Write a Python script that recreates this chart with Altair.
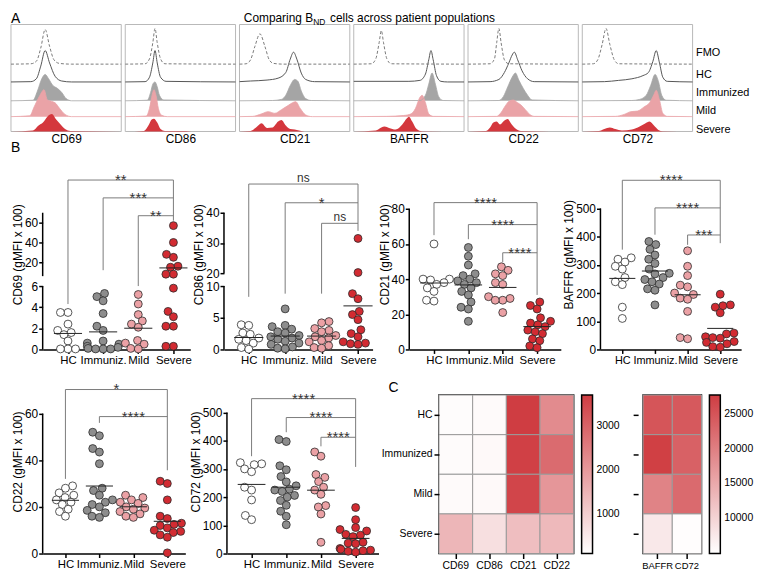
import altair as alt
import numpy as np
import pandas as pd

FONT = "Liberation Sans"
GROUPS = ["HC", "Immuniz.", "Mild", "Severe"]
GROUP_FILL = ["#ffffff", "#8d8d8d", "#eba1a5", "#d22b32"]

# ---------------- Panel B values (gMFI x 100) ----------------
cd69_hc = [3.5, 3.5, 2.4, 1.8, 1.6, 1.4, 0.8, 0.05, 0.05, 0.05]
cd69_imm = [5.3, 5.0, 4.6, 3.4, 2.2, 1.8, 0.8, 0.6, 0.5, 0.3, 0.2, 0.1, 0.05, 0.05, 0.05]
cd69_mild = [5.2, 4.3, 3.3, 2.7, 2.4, 2.1, 0.85, 0.6, 0.5, 0.1, 0.05]
cd69_sev = [57, 40, 28, 25, 16, 15, 8, 8, 5.8, 3.6, 3.1, 2.2, 2.2, 0.3, 0.3]

cd86_hc = [3.9, 3.8, 2.6, 2.4, 1.8, 1.6, 1.4, 1.0, 0.3, 0.05]
cd86_imm = [6.4, 3.8, 3.6, 3.2, 2.8, 2.6, 2.2, 2.0, 1.8, 1.6, 1.3, 1.0, 0.8, 0.4, 0.2, 0.1]
cd86_mild = [4.4, 4.2, 3.3, 3.0, 2.8, 2.2, 2.0, 1.8, 1.4, 1.2, 0.6, 0.3, 0.2]
cd86_sev = [31.5, 20.2, 8.8, 8.0, 6.0, 5.5, 4.7, 3.1, 2.5, 2.0, 1.2, 1.0, 0.9, 0.8]

cd21_hc = [60, 40, 40, 39.5, 38, 37, 35, 33, 28, 27.5]
cd21_imm = [58, 53, 48, 43, 42, 40, 39, 38, 37, 35, 33, 31, 27, 24, 23, 16]
cd21_mild = [47, 45, 43, 42, 38, 37, 30, 29, 28, 28, 21]
cd21_sev = [27, 25, 23, 18, 16, 15, 14, 13, 11, 10, 9, 6, 5, 2, 1]

baffr_hc = [325, 320, 310, 295, 285, 255, 240, 230, 150, 110]
baffr_imm = [383, 372, 355, 335, 320, 305, 285, 270, 268, 255, 248, 240, 232, 215, 210, 158]
baffr_mild = [350, 295, 262, 228, 222, 200, 195, 182, 178, 135, 42, 38]
baffr_sev = [196, 158, 155, 150, 130, 58, 55, 45, 42, 40, 28, 25, 20, 10, 8]

cd22_hc = [29, 28, 26, 25, 24, 23, 22, 21, 19, 18, 16]
cd22_imm = [52, 50.5, 45, 43.5, 38.5, 28, 27, 25, 23, 22, 21, 20, 18.5, 17.5, 16, 15.5]
cd22_mild = [25, 24, 23, 22, 21.5, 20, 19.5, 19, 18, 17, 16, 15.5]
cd22_sev = [31, 30, 23, 16, 15, 13, 12.5, 12, 11, 10, 9.5, 9, 8, 7, 0.3]

cd72_hc = [322, 318, 315, 300, 290, 235, 225, 190, 135, 120]
cd72_imm = [404, 397, 311, 297, 273, 254, 240, 228, 225, 220, 206, 200, 188, 171, 150, 132, 102]
cd72_mild = [360, 345, 280, 270, 255, 235, 225, 210, 170, 165, 140, 40]
cd72_sev = [163, 120, 92, 85, 80, 68, 65, 60, 40, 37, 35, 18, 15, 12, 10, 8, 5]

# ---------------- Panel C heatmap values ----------------
HM_GROUPS = ["HC", "Immunized", "Mild", "Severe"]
hm_cd69 = [150, 170, 200, 1450]
hm_cd86 = [190, 210, 210, 700]
hm_cd21 = [3700, 3650, 3550, 1300]
hm_cd22 = [2250, 2850, 2050, 1400]
hm_baffr = [25000, 27500, 19500, 7500]
hm_cd72 = [24500, 23500, 22500, 5000]

# ---------------- Panel A histogram knots (fraction, relative height) ----------------
A_MARKERS = ["CD69", "CD86", "CD21", "BAFFR", "CD22", "CD72"]
A_ROWS = ["FMO", "HC", "Immunized", "Mild", "Severe"]

h_cd69_fmo = [(0, 0), (0.18, 0.01), (0.23, 0.08), (0.27, 0.45), (0.31, 0.97), (0.35, 0.5), (0.39, 0.12), (0.44, 0.02), (0.55, 0), (1, 0)]
h_cd69_hc = [(0, 0), (0.18, 0.01), (0.23, 0.1), (0.27, 0.5), (0.31, 0.99), (0.35, 0.6), (0.40, 0.18), (0.46, 0.03), (0.55, 0), (1, 0)]
h_cd69_imm = [(0, 0), (0.2, 0.02), (0.24, 0.35), (0.28, 0.8), (0.31, 0.95), (0.34, 0.8), (0.38, 0.55), (0.42, 0.45), (0.46, 0.3), (0.50, 0.08), (0.55, 0), (1, 0)]
h_cd69_mild = [(0, 0), (0.17, 0.03), (0.21, 0.35), (0.26, 0.75), (0.30, 0.97), (0.33, 0.6), (0.37, 0.55), (0.40, 0.5), (0.44, 0.3), (0.49, 0.08), (0.55, 0), (1, 0)]
h_cd69_sev = [(0, 0), (0.2, 0.05), (0.25, 0.3), (0.29, 0.45), (0.33, 0.75), (0.37, 0.88), (0.41, 0.6), (0.45, 0.35), (0.49, 0.12), (0.54, 0.02), (1, 0)]

h_cd86_fmo = [(0, 0), (0.18, 0.01), (0.22, 0.15), (0.25, 0.6), (0.27, 1.0), (0.29, 0.6), (0.32, 0.15), (0.36, 0.01), (1, 0)]
h_cd86_hc = [(0, 0), (0.18, 0.01), (0.22, 0.15), (0.25, 0.6), (0.27, 0.99), (0.29, 0.6), (0.32, 0.15), (0.37, 0.02), (1, 0)]
h_cd86_imm = [(0, 0), (0.2, 0.02), (0.23, 0.3), (0.25, 0.6), (0.27, 0.68), (0.29, 0.5), (0.31, 0.2), (0.35, 0.03), (1, 0)]
h_cd86_mild = [(0, 0), (0.19, 0.02), (0.22, 0.3), (0.245, 0.8), (0.26, 0.97), (0.28, 0.75), (0.30, 0.3), (0.33, 0.05), (0.38, 0), (1, 0)]
h_cd86_sev = [(0, 0), (0.17, 0.03), (0.21, 0.3), (0.24, 0.6), (0.26, 0.64), (0.29, 0.45), (0.32, 0.12), (0.36, 0.02), (0.55, 0.02), (0.6, 0), (1, 0)]

h_cd21_fmo = [(0, 0), (0.06, 0.01), (0.10, 0.12), (0.14, 0.5), (0.185, 0.85), (0.23, 0.5), (0.27, 0.12), (0.31, 0.02), (0.4, 0), (1, 0)]
h_cd21_hc = [(0, 0.01), (0.1, 0.03), (0.25, 0.06), (0.35, 0.12), (0.42, 0.3), (0.46, 0.72), (0.49, 0.94), (0.52, 0.72), (0.56, 0.28), (0.6, 0.08), (0.68, 0.01), (1, 0)]
h_cd21_imm = [(0, 0), (0.3, 0.01), (0.38, 0.05), (0.42, 0.2), (0.46, 0.55), (0.5, 0.77), (0.53, 0.7), (0.56, 0.35), (0.6, 0.08), (0.65, 0.01), (1, 0)]
h_cd21_mild = [(0, 0), (0.12, 0.01), (0.2, 0.1), (0.26, 0.18), (0.32, 0.12), (0.38, 0.25), (0.44, 0.4), (0.48, 0.5), (0.51, 0.54), (0.55, 0.3), (0.6, 0.06), (0.66, 0), (1, 0)]
h_cd21_sev = [(0, 0), (0.1, 0.02), (0.15, 0.2), (0.2, 0.42), (0.25, 0.18), (0.3, 0.2), (0.35, 0.5), (0.38, 0.58), (0.42, 0.3), (0.46, 0.12), (0.5, 0.1), (0.56, 0.03), (0.62, 0), (1, 0)]

h_baffr_fmo = [(0, 0), (0.16, 0.01), (0.2, 0.15), (0.23, 0.6), (0.25, 0.94), (0.27, 0.6), (0.3, 0.15), (0.34, 0.01), (1, 0)]
h_baffr_hc = [(0, 0.02), (0.5, 0.02), (0.6, 0.05), (0.65, 0.25), (0.68, 0.7), (0.70, 0.99), (0.72, 0.7), (0.75, 0.2), (0.79, 0.02), (0.85, 0), (1, 0)]
h_baffr_imm = [(0, 0), (0.6, 0.01), (0.65, 0.2), (0.68, 0.6), (0.71, 1.0), (0.74, 0.6), (0.77, 0.15), (0.81, 0.01), (1, 0)]
h_baffr_mild = [(0, 0), (0.3, 0.01), (0.45, 0.04), (0.52, 0.1), (0.56, 0.3), (0.6, 0.7), (0.62, 0.77), (0.65, 0.5), (0.68, 0.1), (0.72, 0.01), (1, 0)]
h_baffr_sev = [(0, 0), (0.2, 0.05), (0.25, 0.2), (0.28, 0.25), (0.32, 0.18), (0.38, 0.1), (0.44, 0.35), (0.48, 0.65), (0.5, 0.75), (0.53, 0.5), (0.57, 0.12), (0.62, 0.01), (1, 0)]

h_cd22_fmo = [(0, 0), (0.2, 0.01), (0.24, 0.15), (0.26, 0.6), (0.28, 1.0), (0.30, 0.6), (0.33, 0.12), (0.37, 0.01), (1, 0)]
h_cd22_hc = [(0, 0), (0.2, 0.01), (0.28, 0.08), (0.33, 0.3), (0.37, 0.6), (0.40, 0.85), (0.42, 0.94), (0.45, 0.7), (0.49, 0.35), (0.54, 0.1), (0.6, 0.01), (1, 0)]
h_cd22_imm = [(0, 0), (0.28, 0.01), (0.32, 0.15), (0.36, 0.5), (0.4, 0.85), (0.43, 1.0), (0.46, 0.75), (0.5, 0.45), (0.54, 0.2), (0.58, 0.03), (1, 0)]
h_cd22_mild = [(0, 0), (0.26, 0.01), (0.3, 0.15), (0.34, 0.4), (0.37, 0.55), (0.41, 0.6), (0.45, 0.5), (0.48, 0.42), (0.52, 0.25), (0.56, 0.08), (0.6, 0.01), (1, 0)]
h_cd22_sev = [(0, 0), (0.16, 0.02), (0.2, 0.2), (0.23, 0.45), (0.26, 0.5), (0.29, 0.35), (0.33, 0.55), (0.36, 0.63), (0.39, 0.4), (0.43, 0.15), (0.48, 0.03), (1, 0)]

h_cd72_fmo = [(0, 0), (0.1, 0.01), (0.14, 0.12), (0.18, 0.55), (0.215, 1.0), (0.25, 0.55), (0.29, 0.12), (0.33, 0.01), (1, 0)]
h_cd72_hc = [(0, 0), (0.2, 0.01), (0.33, 0.05), (0.45, 0.1), (0.55, 0.2), (0.6, 0.3), (0.64, 0.65), (0.67, 0.99), (0.7, 0.6), (0.73, 0.15), (0.77, 0.02), (1, 0)]
h_cd72_imm = [(0, 0), (0.45, 0.01), (0.52, 0.05), (0.58, 0.2), (0.62, 0.55), (0.66, 0.95), (0.69, 0.7), (0.72, 0.2), (0.76, 0.02), (1, 0)]
h_cd72_mild = [(0, 0), (0.3, 0.01), (0.38, 0.08), (0.44, 0.18), (0.5, 0.2), (0.56, 0.35), (0.61, 0.5), (0.65, 0.8), (0.67, 0.95), (0.7, 0.6), (0.73, 0.12), (0.77, 0.01), (1, 0)]
h_cd72_sev = [(0, 0), (0.15, 0.02), (0.2, 0.12), (0.25, 0.2), (0.3, 0.12), (0.36, 0.05), (0.45, 0.1), (0.52, 0.25), (0.57, 0.4), (0.61, 0.5), (0.65, 0.3), (0.69, 0.08), (0.73, 0.01), (1, 0)]

HIST = {
    "CD69": [h_cd69_fmo, h_cd69_hc, h_cd69_imm, h_cd69_mild, h_cd69_sev],
    "CD86": [h_cd86_fmo, h_cd86_hc, h_cd86_imm, h_cd86_mild, h_cd86_sev],
    "CD21": [h_cd21_fmo, h_cd21_hc, h_cd21_imm, h_cd21_mild, h_cd21_sev],
    "BAFFR": [h_baffr_fmo, h_baffr_hc, h_baffr_imm, h_baffr_mild, h_baffr_sev],
    "CD22": [h_cd22_fmo, h_cd22_hc, h_cd22_imm, h_cd22_mild, h_cd22_sev],
    "CD72": [h_cd72_fmo, h_cd72_hc, h_cd72_imm, h_cd72_mild, h_cd72_sev],
}


# ---------------- helpers ----------------
def seg_map(v, segs):
    for (v0, v1, d0, d1) in segs:
        if v <= v1:
            return d0 + (v - v0) * (d1 - d0) / (v1 - v0)
    v0, v1, d0, d1 = segs[-1]
    return d0 + (v - v0) * (d1 - d0) / (v1 - v0)


def yaxis_expr(segs):
    expr = None
    for (v0, v1, d0, d1) in reversed(segs):
        k = (v1 - v0) / (d1 - d0)
        e = f"format({v0} + (datum.value - {d0}) * {k:.6f}, '.0f')"
        expr = e if expr is None else f"(datum.value <= {d1 + 0.5} ? {e} : {expr})"
    return expr


def swarm(ys, diam, maxoff):
    order = sorted(range(len(ys)), key=lambda i: ys[i])
    placed = []
    offs = [0.0] * len(ys)
    for i in order:
        y = ys[i]
        cands = [0.0]
        for (px, py) in placed:
            dy = abs(py - y)
            if dy < diam:
                dx = (diam ** 2 - dy ** 2) ** 0.5
                cands += [px + dx, px - dx]
        cands.sort(key=lambda c: (abs(c), c))
        chosen = cands[-1]
        for c in cands:
            if all((c - px) ** 2 + (y - py) ** 2 >= diam ** 2 - 1e-6 for px, py in placed):
                chosen = c
                break
        chosen = max(-maxoff, min(maxoff, chosen))
        offs[i] = chosen
        placed.append((chosen, y))
    return offs


def dot_chart(title, vals, segs, ticks, top_v, W, H, xdom, brackets, sev_bottom, xfs=11.5):
    step = W / (xdom[1] - xdom[0])
    pts, means = [], []
    for gi, vs in enumerate(vals):
        ds = [seg_map(v, segs) for v in vs]
        offs = swarm(ds, 7.6, 0.45 * step)
        for d, o in zip(ds, offs):
            pts.append({"x": gi + o / step, "y": d, "g": GROUPS[gi]})
        md = seg_map(float(np.mean(vs)), segs)
        means.append({"x": gi - 0.4, "x2": gi + 0.4, "y": md})
    br_rules, stars, ns = [], [], []
    for gi, lab, lev, bottom in brackets:
        L = seg_map(lev, segs)
        br_rules.append({"x": gi, "x2": 3, "y": L, "y2": L})
        br_rules.append({"x": gi, "x2": gi, "y": seg_map(bottom, segs), "y2": L})
        row = {"x": (gi + 3) / 2, "y": L, "t": lab}
        (stars if "*" in lab else ns).append(row)
    top = max(b[2] for b in brackets)
    br_rules.append({"x": 3, "x2": 3, "y": seg_map(sev_bottom, segs), "y2": seg_map(top, segs)})
    dom = []
    for i, (v0, v1, d0, d1) in enumerate(segs):
        end = d1 if i < len(segs) - 1 else seg_map(top_v, segs)
        dom.append({"y": d0, "y2": end})

    xs = alt.Scale(domain=list(xdom), nice=False, zero=False)
    ys = alt.Scale(domain=[0, H], nice=False, zero=False)
    xax = alt.Axis(values=[0, 1, 2, 3],
                   labelExpr="['HC','Immuniz.','Mild','Severe'][datum.value]",
                   title=None, grid=False, domainColor="black", domainWidth=1.5,
                   tickColor="black", tickWidth=1.5, tickSize=4, labelFontSize=xfs,
                   labelColor="black", labelPadding=1, labelOverlap=False,
                   labelFlush=False, labelFont=FONT)
    yax = alt.Axis(values=[seg_map(t, segs) for t in ticks], labelExpr=yaxis_expr(segs),
                   title=title, grid=False, domain=False, tickColor="black",
                   tickWidth=1.5, tickSize=4, labelFontSize=12, labelColor="black",
                   labelPadding=1, titleFontSize=12, titleFontWeight="normal",
                   titleColor="black", titlePadding=0, labelFont=FONT,
                   titleFont=FONT, labelOverlap=False, labelFlush=False)

    def X():
        return alt.X("x:Q", scale=xs, axis=xax)

    def Y():
        return alt.Y("y:Q", scale=ys, axis=yax)

    layers = [
        alt.Chart(pd.DataFrame(br_rules)).mark_rule(color="#7a7a7a", strokeWidth=1).encode(
            x=X(), x2="x2:Q", y=Y(), y2="y2:Q"),
        alt.Chart(pd.DataFrame(dom)).mark_rule(color="black", strokeWidth=1.5).encode(
            x=alt.value(0), y=Y(), y2="y2:Q"),
        alt.Chart(pd.DataFrame(pts)).mark_circle(size=64, stroke="#2b2b2b", strokeWidth=0.8, opacity=1).encode(
            x=X(), y=Y(),
            color=alt.Color("g:N", scale=alt.Scale(domain=GROUPS, range=GROUP_FILL), legend=None)),
        alt.Chart(pd.DataFrame(means)).mark_rule(color="#222222", strokeWidth=1).encode(
            x=X(), x2="x2:Q", y=Y()),
    ]
    if stars:
        layers.append(alt.Chart(pd.DataFrame(stars)).mark_text(
            fontSize=15, baseline="alphabetic", dy=5, color="#333333", font=FONT).encode(
            x=X(), y=Y(), text="t:N"))
    if ns:
        layers.append(alt.Chart(pd.DataFrame(ns)).mark_text(
            fontSize=12, baseline="alphabetic", dy=-2, color="#333333", font=FONT).encode(
            x=X(), y=Y(), text="t:N"))
    return alt.layer(*layers).properties(width=W, height=H)


def heatmap(markers, cols, domain, lvals, W, H, ylabels, letter, xfs):
    rows = []
    for m, col in zip(markers, cols):
        for g, v in zip(HM_GROUPS, col):
            rows.append({"marker": m, "group": g, "value": v})
    df = pd.DataFrame(rows)
    rect = alt.Chart(df).mark_rect(stroke="#9a9a9a", strokeWidth=1).encode(
        x=alt.X("marker:N", sort=markers,
                axis=alt.Axis(title=None, labelAngle=0, tickColor="black", tickWidth=1.5,
                              tickSize=5, domain=False, labelFontSize=xfs,
                              labelColor="black", labelPadding=2, labelFont=FONT)),
        y=alt.Y("group:N", sort=HM_GROUPS,
                axis=alt.Axis(title=None, labels=ylabels, tickColor="black", tickWidth=1.5,
                              tickSize=5, domain=False, labelFontSize=10.5, offset=0 if ylabels else 5,
                              labelColor="black", labelPadding=2, labelFont=FONT)),
        color=alt.Color("value:Q",
                        scale=alt.Scale(domain=domain, range=["#ffffff", "#cf3d42"],
                                        interpolate="rgb", clamp=True),
                        legend=alt.Legend(title=None, orient="right", direction="vertical",
                                          gradientLength=H, gradientThickness=11,
                                          gradientStrokeColor="black", gradientStrokeWidth=1.5,
                                          values=lvals, format="d", labelFontSize=10.5, labelFont=FONT,
                                          labelColor="black", offset=8, labelOffset=4)))
    layers = [rect]
    if letter:
        layers.append(alt.Chart(pd.DataFrame({"t": [letter]})).mark_text(
            fontSize=14, align="left", baseline="middle", font=FONT, color="black").encode(
            text="t:N", x=alt.value(-51), y=alt.value(-7)))
    return alt.layer(*layers).properties(
        width=W, height=H, view=alt.ViewBackground(stroke="black", strokeWidth=1.5))


# ---------------- Panel A ----------------
A_W = 688          # full width of the six histogram panels
A_GAP = 4
A_SHIFT = 32       # panels start this far left of the shared column origin
PANEL_PX = (A_W - 5 * A_GAP) / 6
gapu = A_GAP / PANEL_PX
A_BASE = {"FMO": 68, "HC": 50, "Immunized": 31, "Mild": 15, "Severe": 0}
A_AMP = {"FMO": 36, "HC": 32, "Immunized": 28, "Mild": 28, "Severe": 20}
A_LABEL_Y = {"FMO": 80, "HC": 58, "Immunized": 39, "Mild": 21, "Severe": 2}

hrows, borders = [], []
for pi, m in enumerate(A_MARKERS):
    x0 = pi * (1 + gapu)
    borders.append({"x": x0, "x2": x0 + 1, "y": 0, "y2": 108})
    for r, knots in zip(A_ROWS, HIST[m]):
        for f, h in knots:
            hrows.append({"panel": m, "row": r, "x": x0 + f,
                          "y": A_BASE[r] + h * A_AMP[r], "base": A_BASE[r]})
hdf = pd.DataFrame(hrows)

d_lo = A_SHIFT / PANEL_PX
d_hi = 6 + 5 * gapu
axs = alt.Scale(domain=[d_lo, d_hi], nice=False, zero=False)
ays = alt.Scale(domain=[0, 108], nice=False, zero=False)
a_xax = alt.Axis(values=[i * (1 + gapu) + 0.5 for i in range(6)],
                 labelExpr="['CD69','CD86','CD21','BAFFR','CD22','CD72'][round((datum.value - 0.5) / %f)]" % (1 + gapu),
                 domain=False, ticks=False, grid=False, title=None, labelFontSize=12,
                 labelPadding=2, labelColor="black", labelFont=FONT, labelFlush=False,
                 labelOverlap=False)
yexpr = " : ".join(f"datum.value == {A_LABEL_Y[r]} ? '{r}'" for r in A_ROWS) + " : ''"
a_yax = alt.Axis(orient="right", values=[A_LABEL_Y[r] for r in A_ROWS], labelExpr=yexpr,
                 domain=False, ticks=False, grid=False, title=None, labelFontSize=11,
                 labelPadding=3, labelColor="black", labelFont=FONT, labelAlign="left")


def AX():
    return alt.X("x:Q", scale=axs, axis=a_xax)


def AY():
    return alt.Y("y:Q", scale=ays, axis=a_yax)


a_border = alt.Chart(pd.DataFrame(borders)).mark_rect(
    fillOpacity=0, stroke="#b8b8b8", strokeWidth=1).encode(x=AX(), x2="x2:Q", y=AY(), y2="y2:Q")
a_fmo = alt.Chart(hdf).transform_filter("datum.row == 'FMO'").mark_line(
    interpolate="monotone", color="#7a7a7a", strokeWidth=1, strokeDash=[3, 2]).encode(
    x=AX(), y=AY(), detail="panel:N")
a_hc = alt.Chart(hdf).transform_filter("datum.row == 'HC'").mark_line(
    interpolate="monotone", color="#555555", strokeWidth=1).encode(
    x=AX(), y=AY(), detail="panel:N")
AREA_SCALE = alt.Scale(domain=["Immunized", "Mild", "Severe"], range=["#a5a5a5", "#eaa3a7", "#d4373d"])
a_area = alt.Chart(hdf).transform_filter(
    "datum.row == 'Immunized' || datum.row == 'Mild' || datum.row == 'Severe'").mark_area(
    interpolate="monotone", opacity=1).encode(
    x=AX(), y=AY(), y2="base:Q", detail="panel:N",
    color=alt.Color("row:N", scale=AREA_SCALE, legend=None))
a_edge = alt.Chart(hdf).transform_filter(
    "datum.row == 'Immunized' || datum.row == 'Mild'").mark_line(
    interpolate="monotone", strokeWidth=0.8).encode(
    x=AX(), y=AY(), detail="panel:N",
    color=alt.Color("row:N", scale=AREA_SCALE, legend=None))


def a_text(t, x, y, size, align, baseline="middle"):
    return alt.Chart(pd.DataFrame({"t": [t]})).mark_text(
        fontSize=size, align=align, baseline=baseline, font=FONT, color="black").encode(
        text="t:N", x=alt.value(x), y=alt.value(y))


panelA = alt.layer(
    a_border, a_area, a_edge, a_hc, a_fmo,
    a_text("A", -A_SHIFT, -6, 14, "left"),
    a_text("Comparing B", 273, -7, 12, "right"),
    a_text("ND", 273, -3, 8.5, "left"),
    a_text("cells across patient populations", 290, -7, 12, "left"),
    a_text("B", -A_SHIFT, 125, 14, "left"),
).properties(width=A_W - A_SHIFT, height=108)

# ---------------- Panel B charts ----------------
H1 = 192
H2 = 186
c69 = dot_chart("CD69 (gMFI x 100)", [cd69_hc, cd69_imm, cd69_mild, cd69_sev],
                [(0, 6, 0, 64), (6, 70, 74, 138)], [0, 2, 4, 6, 20, 40, 60], 70,
                149, H1, (-0.72, 3.48),
                [(0, "**", 103, 4.3), (1, "***", 85, 12), (2, "**", 67, 6.0)], 62)
c86 = dot_chart("CD86 (gMFI x 100)", [cd86_hc, cd86_imm, cd86_mild, cd86_sev],
                [(0, 10, 0, 64), (20, 40, 77, 138)], [0, 5, 10, 20, 30, 40], 40,
                150, H1, (-0.68, 3.40),
                [(0, "ns", 49.5, 8.3), (1, "*", 43.3, 8.8), (2, "ns", 36.5, 8.8)], 34)
c21 = dot_chart("CD21 (gMFI x 100)", [cd21_hc, cd21_imm, cd21_mild, cd21_sev],
                [(0, 80, 0, 142)], [0, 20, 40, 60, 80], 80,
                153, H1, (-0.72, 3.69),
                [(0, "****", 83.5, 65), (1, "****", 71, 62.7), (2, "****", 55, 49.6)], 31)
cbf = dot_chart("BAFFR (gMFI x 100)", [baffr_hc, baffr_imm, baffr_mild, baffr_sev],
                [(0, 500, 0, 142.3)], [0, 100, 200, 300, 400, 500], 500,
                142, H1, (-0.67, 3.64),
                [(0, "****", 600, 354), (1, "****", 502, 407), (2, "***", 406, 371)], 377, xfs=11)
c22 = dot_chart("CD22 (gMFI x 100)", [cd22_hc, cd22_imm, cd22_mild, cd22_sev],
                [(0, 60, 0, 141.3)], [0, 20, 40, 60], 60,
                144, H2, (-0.67, 3.53),
                [(0, "*", 70.3, 32), (1, "****", 58.7, 56)], 35.7)
c72 = dot_chart("CD72 (gMFI x 100)", [cd72_hc, cd72_imm, cd72_mild, cd72_sev],
                [(0, 500, 0, 142.4)], [0, 100, 200, 300, 400, 500], 500,
                153, H2, (-0.71, 3.66),
                [(0, "****", 549, 345), (1, "****", 482, 430), (2, "****", 412, 380)], 307)

hm1 = heatmap(["CD69", "CD86", "CD21", "CD22"], [hm_cd69, hm_cd86, hm_cd21, hm_cd22],
              [100, 3700], [1000, 2000, 3000], 136, 160, True, "C", 10.5)
hm2 = heatmap(["BAFFR", "CD72"], [hm_baffr, hm_cd72],
              [4800, 27800], [10000, 15000, 20000, 25000], 59, 160, False, None, 9.5)

# invisible spacer that pushes the heat maps below the dot-plot tops
spacer = alt.Chart(pd.DataFrame({"t": [0]})).mark_rule(strokeOpacity=0).encode(
    x=alt.value(0), y=alt.value(0), y2=alt.value(4)).properties(width=10, height=4)

hm_row = alt.concat(hm1, hm2, columns=2, spacing=10).resolve_scale(color="independent")
hm_block = alt.concat(spacer, hm_row, columns=1, spacing=6).resolve_scale(color="independent")

rowB1 = alt.concat(c69, c86, c21, cbf, columns=4, spacing=0).resolve_scale(color="independent")
rowB2 = alt.concat(c22, c72, hm_block, columns=3, spacing=0).resolve_scale(color="independent")

chart = alt.concat(panelA, rowB1, rowB2, columns=1, spacing=2).resolve_scale(
    color="independent").properties(padding=0).configure(font=FONT).configure_view(
    stroke="transparent")

chart.save("out.html", embed_options={"renderer": "svg", "actions": False})
